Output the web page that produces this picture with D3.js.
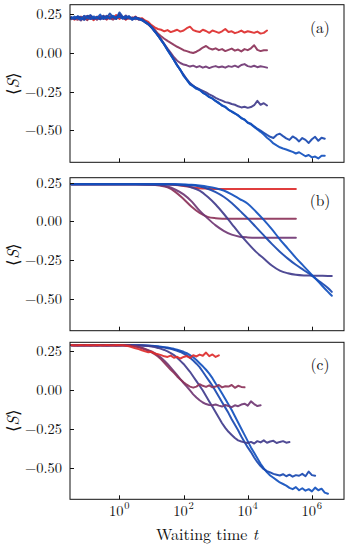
<!DOCTYPE html>
<html><head><meta charset="utf-8">
<script src="https://cdn.jsdelivr.net/npm/d3@7"></script>
<style>html,body{margin:0;padding:0;background:#fff;}svg{display:block;}</style>
</head><body><svg id="chart" width="350" height="547"></svg>
<script>
// ---- data ----
// log10 of waiting time (fine grid used by panels a and c)
const logTimes = [-1.5,-1.4,-1.3,-1.2,-1.1,-1.0,-0.9,-0.8,-0.7,-0.6,-0.5,-0.4,-0.3,-0.2,-0.1,0,0.1,0.2,0.3,0.4,0.5,0.6,0.7,0.8,0.9,1.0,1.1,1.2,1.3,1.4,1.5,1.6,1.7,1.8,1.9,2.0,2.1,2.2,2.3,2.4,2.5,2.6,2.7,2.8,2.9,3.0,3.1,3.2,3.3,3.4,3.5,3.6,3.7,3.8,3.9,4.0,4.1,4.2,4.3,4.4,4.5,4.6,4.7,4.8,4.9,5.0,5.1,5.2,5.3,5.4,5.5,5.6,5.7,5.8,5.9,6.0,6.1,6.2,6.3,6.4,6.5];
// log10 of waiting time (coarse grid for the smooth panel b)
const bLogTimes = [-1.5,-1,-0.5,0,0.5,1,1.25,1.5,1.75,2,2.25,2.5,2.75,3,3.25,3.5,3.75,4,4.25,4.5,4.75,5,5.25,5.5,5.75,6,6.25,6.5,6.62];

// panel (a)
const aRed = [0.225,0.215,0.232,0.22,0.238,0.218,0.226,0.212,0.235,0.222,0.24,0.216,0.23,0.225,0.245,0.22,0.232,0.215,0.228,0.222,0.236,0.218,
  0.225,0.21,0.2,0.18,0.165,0.155,0.15,0.14,0.148,0.135,0.142,0.15,0.138,0.145,0.16,0.17,0.148,0.14,0.135,0.15,0.142,0.13,0.145,0.138,0.13,0.14,0.155,0.135,0.14,0.128,0.135,0.145,0.132,0.14,0.135,0.13,0.138,0.125,0.13,0.145];
const aMaroon = [0.23,0.222,0.215,0.235,0.225,0.212,0.24,0.228,0.218,0.232,0.22,0.236,0.224,0.215,0.23,0.242,0.226,0.218,0.232,0.22,0.228,0.215,
  0.22,0.205,0.19,0.172,0.15,0.125,0.108,0.092,0.078,0.065,0.052,0.04,0.03,0.018,0.012,0.005,0.0,0.008,0.02,0.035,0.045,0.03,0.022,0.03,0.018,0.025,0.012,0.02,0.028,0.015,0.022,0.01,0.025,0.018,0.03,0.05,0.02,0.012,0.018,0.017];
const aPurple = [0.218,0.23,0.225,0.21,0.232,0.24,0.22,0.228,0.215,0.236,0.225,0.218,0.238,0.23,0.22,0.234,0.225,0.242,0.22,0.23,0.218,0.226,
  0.215,0.2,0.185,0.165,0.142,0.116,0.088,0.058,0.028,0.0,-0.028,-0.05,-0.065,-0.075,-0.08,-0.088,-0.082,-0.092,-0.085,-0.095,-0.088,-0.098,-0.09,-0.085,-0.093,-0.088,-0.095,-0.085,-0.09,-0.082,-0.092,-0.078,-0.072,-0.085,-0.09,-0.083,-0.092,-0.086,-0.09,-0.095];
const aIndigo = [0.228,0.22,0.235,0.225,0.215,0.238,0.226,0.22,0.232,0.218,0.228,0.24,0.222,0.235,0.23,0.25,0.228,0.22,0.235,0.215,0.23,0.222,
  0.212,0.198,0.185,0.165,0.14,0.113,0.085,0.055,0.022,-0.01,-0.045,-0.078,-0.11,-0.14,-0.17,-0.195,-0.212,-0.225,-0.235,-0.245,-0.255,-0.268,-0.278,-0.29,-0.3,-0.308,-0.318,-0.322,-0.33,-0.335,-0.345,-0.352,-0.348,-0.355,-0.35,-0.338,-0.31,-0.335,-0.325,-0.34];
const aBlue1 = [0.232,0.22,0.238,0.228,0.215,0.235,0.245,0.222,0.23,0.218,0.24,0.226,0.255,0.232,0.22,0.262,0.235,0.225,0.238,0.22,0.232,0.222,
  0.215,0.2,0.188,0.165,0.142,0.112,0.085,0.052,0.02,-0.012,-0.046,-0.08,-0.112,-0.145,-0.175,-0.2,-0.213,-0.228,-0.24,-0.256,-0.27,-0.284,-0.296,-0.31,-0.326,-0.338,-0.35,-0.366,-0.38,-0.39,-0.405,-0.42,-0.432,-0.45,-0.458,-0.475,-0.49,-0.502,-0.516,-0.53,-0.542,-0.55,-0.53,-0.522,-0.538,-0.552,-0.562,-0.54,-0.552,-0.572,-0.55,-0.562,-0.582,-0.558,-0.542,-0.568,-0.548,-0.555];
const aBlue2 = [0.222,0.235,0.225,0.215,0.24,0.228,0.22,0.236,0.225,0.248,0.22,0.232,0.225,0.24,0.228,0.235,0.222,0.238,0.228,0.215,0.226,0.218,
  0.212,0.202,0.185,0.168,0.138,0.115,0.082,0.055,0.018,-0.015,-0.045,-0.082,-0.108,-0.148,-0.172,-0.203,-0.216,-0.232,-0.238,-0.258,-0.268,-0.286,-0.294,-0.312,-0.322,-0.342,-0.348,-0.368,-0.378,-0.392,-0.402,-0.422,-0.43,-0.452,-0.462,-0.478,-0.495,-0.51,-0.528,-0.548,-0.565,-0.585,-0.598,-0.61,-0.618,-0.624,-0.632,-0.64,-0.65,-0.642,-0.655,-0.668,-0.66,-0.675,-0.67,-0.682,-0.665,-0.665];

// panel (b)
const bRed = [0.24,0.24,0.24,0.24,0.24,0.24,0.24,0.239,0.236,0.23,0.222,0.215,0.212,0.21,0.21,0.21,0.21,0.21,0.21,0.21,0.21,0.21,0.21,0.21];
const bMaroon = [0.24,0.24,0.24,0.24,0.24,0.238,0.232,0.22,0.19,0.145,0.095,0.055,0.03,0.021,0.018,0.017,0.017,0.017,0.017,0.017,0.017,0.017,0.017,0.017];
const bPurple = [0.24,0.24,0.24,0.24,0.24,0.238,0.235,0.226,0.205,0.175,0.13,0.07,0.02,-0.025,-0.06,-0.085,-0.098,-0.103,-0.105,-0.105,-0.105,-0.105,-0.105,-0.105];
const bIndigo = [0.24,0.24,0.24,0.24,0.24,0.24,0.24,0.24,0.238,0.232,0.22,0.2,0.16,0.11,0.05,-0.015,-0.08,-0.14,-0.195,-0.24,-0.285,-0.318,-0.335,-0.345,-0.349,-0.35,-0.351,-0.352,-0.352];
const bBlue1 = [0.24,0.24,0.24,0.24,0.24,0.24,0.24,0.24,0.24,0.238,0.234,0.226,0.212,0.19,0.16,0.12,0.07,0.02,-0.035,-0.09,-0.145,-0.195,-0.24,-0.28,-0.315,-0.35,-0.39,-0.43,-0.455];
const bBlue2 = [0.24,0.24,0.24,0.24,0.24,0.24,0.24,0.24,0.24,0.239,0.237,0.232,0.225,0.215,0.2,0.175,0.145,0.115,0.065,0.01,-0.05,-0.115,-0.175,-0.235,-0.29,-0.345,-0.4,-0.455,-0.48];

// panel (c)
const cRed = [0.286,0.284,0.285,0.287,0.284,0.286,0.285,0.283,0.286,0.285,0.284,0.287,0.285,0.284,0.286,0.285,
  0.285,0.282,0.279,0.272,0.266,0.26,0.253,0.246,0.24,0.244,0.232,0.228,0.222,0.214,0.21,0.219,0.205,0.211,0.2,0.21,0.216,0.204,0.221,0.213,0.225,0.218,0.238,0.215,0.226,0.21,0.22];
const cMaroon = [0.285,0.286,0.284,0.285,0.286,0.285,0.284,0.285,0.286,0.285,0.284,0.286,0.285,0.285,0.284,0.286,0.285,0.285,
  0.283,0.28,0.277,0.272,0.266,0.258,0.25,0.24,0.228,0.213,0.195,0.172,0.15,0.128,0.108,0.085,0.065,0.048,0.032,0.02,0.013,0.02,0.035,0.025,0.018,0.028,0.015,0.02,0.03,0.015,0.022,0.02,0.03,0.012,0.025,0.018,0.015];
const cPurple = [0.285,0.284,0.286,0.285,0.285,0.284,0.286,0.285,0.284,0.285,0.286,0.285,0.284,0.285,0.286,0.285,0.285,0.284,
  0.283,0.281,0.278,0.274,0.269,0.262,0.254,0.245,0.234,0.221,0.205,0.186,0.165,0.142,0.118,0.093,0.068,0.043,0.02,-0.005,-0.03,-0.05,-0.068,-0.082,-0.092,-0.098,-0.1,-0.095,-0.102,-0.108,-0.098,-0.105,-0.112,-0.1,-0.106,-0.095,-0.09,-0.102,-0.075,-0.092,-0.105,-0.1];
const cIndigo = [0.285,0.285,0.284,0.286,0.285,0.285,0.284,0.285,0.286,0.285,0.285,0.284,0.285,0.286,0.285,0.284,0.285,0.285,0.286,0.285,0.284,0.285,
  0.284,0.282,0.28,0.277,0.273,0.268,0.262,0.255,0.246,0.235,0.222,0.205,0.185,0.165,0.14,0.115,0.085,0.055,0.025,-0.005,-0.04,-0.075,-0.11,-0.145,-0.18,-0.215,-0.245,-0.27,-0.29,-0.31,-0.325,-0.332,-0.338,-0.342,-0.335,-0.345,-0.33,-0.338,-0.325,-0.34,-0.332,-0.328,-0.342,-0.335,-0.33,-0.34,-0.336];
const cBlue1 = [0.285,0.285,0.285,0.284,0.285,0.286,0.285,0.285,0.284,0.285,0.285,0.286,0.285,0.285,0.284,0.285,0.285,0.285,0.286,0.285,0.285,0.284,
  0.284,0.283,0.282,0.28,0.278,0.276,0.273,0.27,0.266,0.262,0.256,0.25,0.242,0.232,0.22,0.205,0.187,0.167,0.145,0.115,0.085,0.055,0.025,-0.01,-0.045,-0.08,-0.115,-0.15,-0.19,-0.225,-0.26,-0.3,-0.335,-0.37,-0.4,-0.435,-0.465,-0.49,-0.51,-0.522,-0.53,-0.54,-0.545,-0.55,-0.542,-0.555,-0.545,-0.558,-0.548,-0.552,-0.54,-0.555,-0.525,-0.548,-0.552];
const cBlue2 = [0.285,0.285,0.285,0.285,0.284,0.285,0.285,0.286,0.285,0.285,0.285,0.284,0.285,0.285,0.286,0.285,0.285,0.285,0.284,0.285,0.285,0.285,
  0.285,0.284,0.283,0.282,0.28,0.278,0.276,0.273,0.27,0.266,0.262,0.257,0.25,0.243,0.234,0.222,0.208,0.19,0.17,0.15,0.128,0.103,0.074,0.04,0.01,-0.025,-0.06,-0.095,-0.13,-0.17,-0.21,-0.25,-0.29,-0.33,-0.37,-0.405,-0.44,-0.475,-0.505,-0.53,-0.55,-0.565,-0.58,-0.595,-0.605,-0.615,-0.63,-0.638,-0.625,-0.645,-0.632,-0.648,-0.638,-0.652,-0.628,-0.645,-0.635,-0.66,-0.667];

const seriesNames = ["red","maroon","purple","indigo","blue1","blue2"];
const seriesColors = ["#dd2c2c","#8c3259","#703774","#413c8c","#1848b0","#1150be"];
const panelLabels = ["(a)","(b)","(c)"];
const yTickValues = [0.25, 0, -0.25, -0.5];
const xTickExponents = [0, 2, 4, 6];
const yLabel = "S";
const xLabel = "Waiting time ";
const xLabelVar = "t";

// ---- drawing ----
const svg = d3.select("#chart");
const plotLeft = 70, plotRight = 344;
const FONT = '"Latin Modern Roman","Liberation Serif",serif';

const x = d3.scaleLog().domain([Math.pow(10,-1.54), Math.pow(10,7.0)]).range([plotLeft, plotRight]);

const panels = [
  {top:4.7, bottom:162.3, domain:[-0.707,0.312], grid:logTimes, data:[aRed,aMaroon,aPurple,aIndigo,aBlue1,aBlue2], order:[0,1,2,3,4,5], curve:d3.curveLinear},
  {top:177.7, bottom:330.7, domain:[-0.706,0.283], grid:bLogTimes, data:[bRed,bMaroon,bPurple,bIndigo,bBlue1,bBlue2], order:[0,1,2,3,4,5], curve:d3.curveMonotoneX},
  {top:342.3, bottom:499.3, domain:[-0.703,0.304], grid:logTimes, data:[cRed,cMaroon,cPurple,cIndigo,cBlue1,cBlue2], order:[5,4,3,2,1,0], curve:d3.curveLinear}
];

function txt(sel, size) {
  return sel.append("text").style("font-family", FONT).style("font-size", size + "px").attr("fill", "#111");
}

panels.forEach((p, pi) => {
  const y = d3.scaleLinear().domain(p.domain).range([p.bottom, p.top]);
  const g = svg.append("g");
  const clipId = "clip" + pi;
  svg.append("clipPath").attr("id", clipId).append("rect")
    .attr("x", plotLeft).attr("y", p.top).attr("width", plotRight - plotLeft).attr("height", p.bottom - p.top);

  const lines = g.append("g").attr("clip-path", `url(#${clipId})`);
  const line = d3.line()
    .x((d, i) => x(Math.pow(10, p.grid[i])))
    .y(d => y(d))
    .curve(p.curve);
  p.order.forEach(si => {
    lines.append("path")
      .attr("d", line(p.data[si]))
      .attr("fill", "none")
      .attr("stroke", seriesColors[si])
      .attr("stroke-width", 2)
      .attr("stroke-linejoin", "round")
      .attr("stroke-linecap", "round")
      .attr("opacity", 0.92);
  });

  // frame
  g.append("rect").attr("x", plotLeft).attr("y", p.top)
    .attr("width", plotRight - plotLeft).attr("height", p.bottom - p.top)
    .attr("fill", "none").attr("stroke", "#111").attr("stroke-width", 1);

  // y ticks (inward)
  yTickValues.forEach(v => {
    const yy = Math.round(y(v)) + 0.5;
    g.append("line").attr("x1", plotLeft).attr("x2", plotLeft + 4)
      .attr("y1", yy).attr("y2", yy).attr("stroke", "#111").attr("stroke-width", 1);
    txt(g, 14.5).attr("x", plotLeft - 8).attr("y", y(v) + 5)
      .attr("text-anchor", "end")
      .text(d3.format(".2f")(v).replace("-", "\u2212"));
  });

  // x ticks (inward)
  xTickExponents.forEach(e => {
    const xx = Math.round(x(Math.pow(10, e))) + 0.5;
    g.append("line").attr("x1", xx).attr("x2", xx)
      .attr("y1", p.bottom).attr("y2", p.bottom - 4).attr("stroke", "#111").attr("stroke-width", 1);
  });

  // panel label
  txt(g, 15.5).attr("x", 320).attr("y", p.top + 28)
    .attr("text-anchor", "middle").text(panelLabels[pi]);

  // y label
  const yc = (p.top + p.bottom) / 2;
  const yl = txt(g, 16.5).attr("transform", `translate(19,${yc}) rotate(-90)`)
    .attr("text-anchor", "middle");
  yl.append("tspan").text("\u27E8");
  yl.append("tspan").style("font-style", "italic").text(yLabel);
  yl.append("tspan").text("\u27E9");

  // x tick labels only on bottom panel: base "10" and its exponent
  if (pi === panels.length - 1) {
    xTickExponents.forEach(e => {
      const cx = x(Math.pow(10, e));
      txt(g, 14.5).attr("x", cx + 4.2).attr("y", p.bottom + 16.5)
        .attr("text-anchor", "end").text("10");
      txt(g, 10.5).attr("x", cx + 4.8).attr("y", p.bottom + 10)
        .attr("text-anchor", "start").text(String(e));
    });
    const xl = txt(g, 16).attr("x", (plotLeft + plotRight) / 2).attr("y", 539.5)
      .attr("text-anchor", "middle");
    xl.append("tspan").text(xLabel);
    xl.append("tspan").style("font-style", "italic").text(xLabelVar);
  }
});
</script></body></html>
